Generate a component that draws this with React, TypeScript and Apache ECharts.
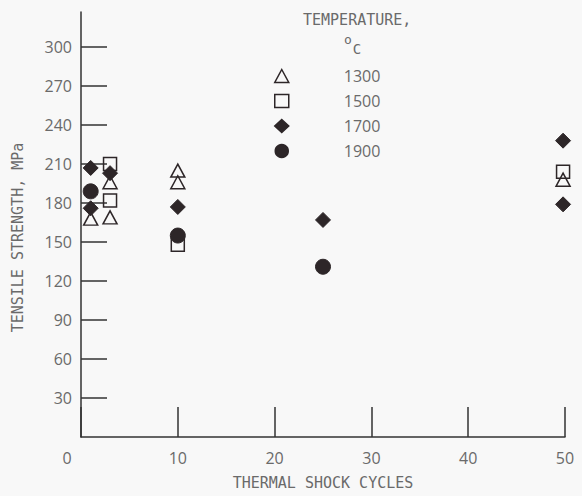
import React, { useEffect, useRef } from "react";
import * as echarts from "echarts";

// ---- data ----
const temperatureNames = ["1300", "1500", "1700", "1900"];

const cycles1300 = [1, 3, 3, 10, 10, 49.8];
const strength1300 = [168, 196, 169, 205, 196, 198];

const cycles1500 = [3, 3, 10, 49.8];
const strength1500 = [210, 182, 148, 204];

const cycles1700 = [1, 1, 3, 10, 25, 49.8, 49.8];
const strength1700 = [207, 176, 203, 177, 167, 228, 179];

const cycles1900 = [1, 10, 25];
const strength1900 = [189, 155, 131];

const xTickValues = [0, 10, 20, 30, 40, 50];
const yTickValues = [30, 60, 90, 120, 150, 180, 210, 240, 270, 300];

const xAxisTitle = "THERMAL SHOCK CYCLES";
const yAxisTitle = "TENSILE STRENGTH, MPa";
const legendTitle = "TEMPERATURE,";

const DARK = "#2d2628";
const AXIS = "#333333";
const LABEL = "#6a6a6a";
const BG = "#f8f8f8";
const NUM_FONT = "'Open Sans', 'Noto Sans', sans-serif";
const TITLE_FONT = "'DejaVu Sans Mono', monospace";

const zip = (xs: number[], ys: number[]) => xs.map((x, i) => [x, ys[i]]);

export default function App() {
  const ref = useRef<HTMLDivElement>(null);

  useEffect(() => {
    if (!ref.current) return;
    const chart = echarts.init(ref.current, undefined, { renderer: "svg" });

    const hollow = { color: "rgba(0,0,0,0)", borderColor: DARK, borderWidth: 1.5, opacity: 1 };
    const filled = { color: DARK, borderColor: DARK, borderWidth: 1, opacity: 1 };

    chart.setOption({
      animation: false,
      backgroundColor: BG,
      grid: { left: 81, right: 17, top: 12, bottom: 59, containLabel: false },
      legend: {
        data: temperatureNames,
        orient: "vertical",
        left: 274,
        top: 68,
        padding: 0,
        itemWidth: 14,
        itemHeight: 13,
        itemGap: 9,
        itemStyle: { borderWidth: 1.5, opacity: 1 },
        textStyle: {
          fontFamily: NUM_FONT,
          fontSize: 16,
          color: LABEL,
          padding: [0, 0, 0, 50],
        },
      },
      graphic: [
        {
          type: "text",
          left: 303,
          top: 12,
          style: {
            text: legendTitle,
            font: `15px ${TITLE_FONT}`,
            fill: LABEL,
          },
        },
        {
          type: "text",
          left: 344,
          top: 33,
          style: {
            text: "{o|o}{c|C}",
            rich: {
              o: { font: `13px ${TITLE_FONT}`, fill: LABEL, verticalAlign: "top", padding: [0, 1, 9, 0] },
              c: { font: `14px ${TITLE_FONT}`, fill: LABEL, padding: [9, 0, 0, 0] },
            },
          },
        },
      ],
      xAxis: {
        type: "value",
        min: 0,
        max: 50,
        interval: 10,
        name: xAxisTitle,
        nameLocation: "middle",
        nameGap: 38,
        nameTextStyle: { fontFamily: TITLE_FONT, fontSize: 15, color: LABEL },
        splitLine: { show: false },
        axisLine: { show: true, lineStyle: { color: AXIS, width: 1.5 } },
        axisTick: {
          show: true,
          inside: true,
          length: 30,
          lineStyle: { color: AXIS, width: 1.5 },
        },
        axisLabel: {
          margin: 13,
          fontFamily: NUM_FONT,
          fontSize: 16,
          color: LABEL,
          formatter: (v: number) => (v === 0 ? "{z|0}" : String(v)),
          rich: {
            z: { fontFamily: NUM_FONT, fontSize: 16, color: LABEL, padding: [0, 28, 0, 0] },
          },
          customValues: xTickValues,
        },
      },
      yAxis: {
        type: "value",
        min: 0,
        max: 327,
        interval: 30,
        name: yAxisTitle,
        nameLocation: "middle",
        nameRotate: 90,
        nameGap: 56,
        nameTextStyle: {
          fontFamily: TITLE_FONT,
          fontSize: 15,
          color: LABEL,
          padding: [0, 26, 0, 0],
        },
        splitLine: { show: false },
        axisLine: { show: true, lineStyle: { color: AXIS, width: 1.5 } },
        axisTick: {
          show: true,
          inside: true,
          length: 26,
          lineStyle: { color: AXIS, width: 1.5 },
          customValues: yTickValues,
        },
        axisLabel: {
          margin: 9,
          fontFamily: NUM_FONT,
          fontSize: 16,
          color: LABEL,
          customValues: yTickValues,
        },
      },
      series: [
        {
          name: temperatureNames[0],
          type: "scatter",
          symbol: "triangle",
          symbolSize: [14, 13],
          itemStyle: hollow,
          data: zip(cycles1300, strength1300),
          z: 3,
        },
        {
          name: temperatureNames[1],
          type: "scatter",
          symbol: "rect",
          symbolSize: 13,
          itemStyle: hollow,
          data: zip(cycles1500, strength1500),
          z: 3,
        },
        {
          name: temperatureNames[2],
          type: "scatter",
          symbol: "diamond",
          symbolSize: [15, 15],
          itemStyle: filled,
          data: zip(cycles1700, strength1700),
          z: 2,
        },
        {
          name: temperatureNames[3],
          type: "scatter",
          symbol: "circle",
          symbolSize: 15,
          itemStyle: filled,
          data: zip(cycles1900, strength1900),
          z: 2,
        },
      ],
    });

    return () => chart.dispose();
  }, []);

  return (
    <div
      ref={ref}
      style={{
        position: "fixed",
        left: 0,
        top: 0,
        width: 582,
        height: 496,
        background: BG,
      }}
    />
  );
}
